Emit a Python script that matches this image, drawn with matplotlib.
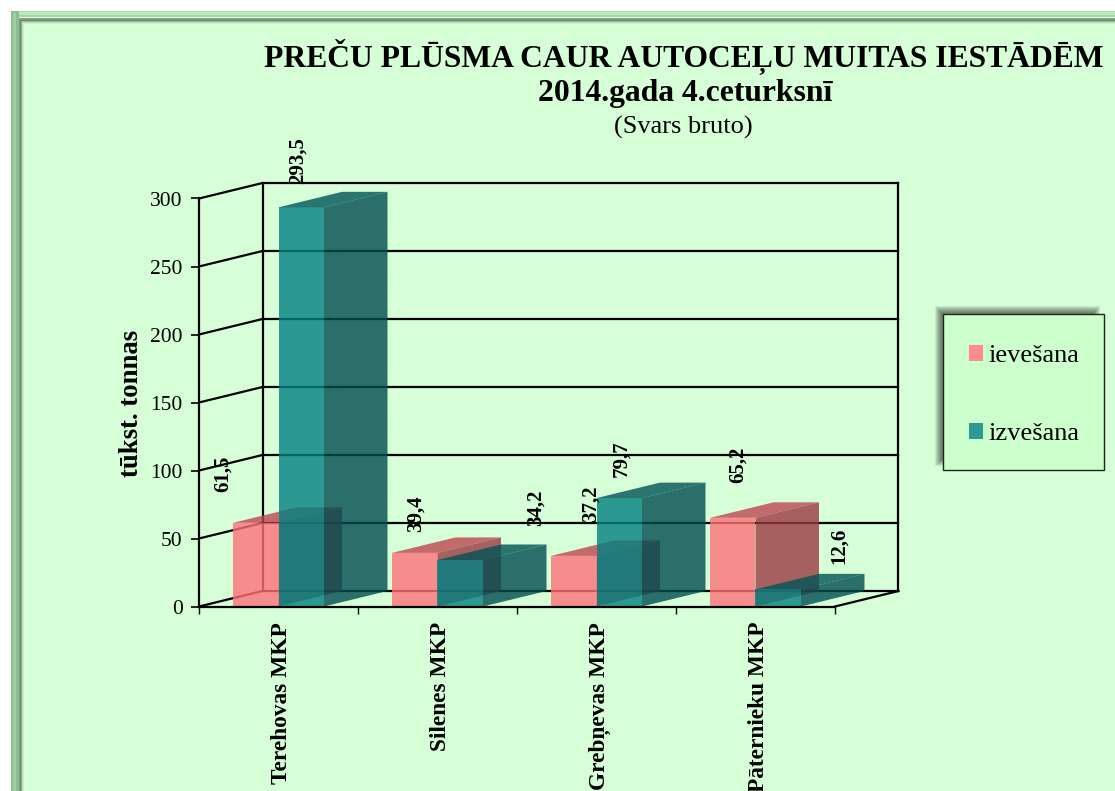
import matplotlib
matplotlib.use("Agg")
import matplotlib.pyplot as plt
from matplotlib.patches import Polygon, Rectangle
from matplotlib.transforms import ScaledTranslation

categories = ["Terehovas MKP", "Silenes MKP", "Grebņevas MKP", "Pāternieku MKP"]
ievesana = [61.5, 39.4, 37.2, 65.2]
izvesana = [293.5, 34.2, 79.7, 12.6]
ievesana_labels = ["61,5", "39,4", "37,2", "65,2"]
izvesana_labels = ["293,5", "34,2", "79,7", "12,6"]
y_ticks = [0, 50, 100, 150, 200, 250, 300]
title_lines = ["PREČU PLŪSMA CAUR AUTOCEĻU MUITAS IESTĀDĒM", "2014.gada 4.ceturksnī"]
subtitle = "(Svars bruto)"
y_label = "tūkst. tonnas"
legend_names = ["ievešana", "izvešana"]

W, H = 1115, 791
SERIF = "Liberation Serif"
BG = "#D7FFD7"
fig = plt.figure(figsize=(W / 100, H / 100), dpi=100, facecolor="white")

# page layer in pixel coordinates
page = fig.add_axes([0, 0, 1, 1])
page.set_xlim(0, W)
page.set_ylim(H, 0)
page.axis("off")


def band(x, y, c, z=1):
    page.add_patch(Rectangle((x, y), W + 10 - x, H + 10 - y, fc=c, ec="none", zorder=z))


# bevelled frame
for off, col in [(10.5, "#A9DCA9"), (12, "#B9EBB9"), (15, "#A5D5A5"), (17, "#E8F5E8"),
                 (18, "#7F9F7F"), (20, "#6E8A6E"), (21, "#96B496"), (22, "#BCDDBC"),
                 (23, "#CDEECD"), (24, BG)]:
    band(off, off, col)
page.add_patch(Rectangle((10.5, 10.5), 8, H, fc="#8DBE8D", ec="none", zorder=1.5))
page.add_patch(Rectangle((13, 13), 3, H, fc="#A0CFA0", ec="none", zorder=1.6))

# legend box with blurred shadow
for grow in range(3, -4, -1):
    page.add_patch(Rectangle((938 - grow, 309 - grow), 159 + 2 * grow, 154 + 2 * grow,
                             fc="black", ec="none", alpha=0.085, zorder=2))
page.add_patch(Rectangle((943, 314), 161, 156, fc="#CCFFCC", ec="#222222", lw=1, zorder=3))

# titles
page.text(684, 57, title_lines[0], family=SERIF, weight="bold", fontsize=22.8, ha="center", va="center", color="black")
page.text(685, 94, title_lines[1], family=SERIF, weight="bold", fontsize=22.8, ha="center", va="center", color="black")
page.text(683.5, 127, subtitle, family=SERIF, fontsize=19, ha="center", va="center", color="black")

# chart: the axes is the front plane of the 3-D box
ax = fig.add_axes([199 / W, 1 - 606.5 / H, 636 / W, 408 / H])
ax.patch.set_alpha(0)
ax.set_xlim(0, 4)
ax.set_ylim(0, 300)
DX = 63.5 / 159    # depth, in data units
DY = 15.5 / 1.36

LW = 1.6
for t in y_ticks:
    ax.plot([0, DX], [t, t + DY], color="black", lw=LW, clip_on=False, zorder=1, solid_capstyle="round")
    ax.plot([DX, 4 + DX], [t + DY, t + DY], color="black", lw=LW, clip_on=False, zorder=1)
ax.plot([DX, DX], [DY, 300 + DY], color="black", lw=LW, clip_on=False, zorder=1)
ax.plot([4 + DX, 4 + DX], [DY, 300 + DY], color="black", lw=LW, clip_on=False, zorder=1)
ax.plot([4, 4 + DX], [0, DY], color="black", lw=LW, clip_on=False, zorder=1)

BAR_W = 45.5 / 159
ALPHA = 0.8
series = [
    (ievesana, -1, "#FF7078", "#9C3842", "#BF454F", ievesana_labels,
     [(-33, 49), (1, 39), (16.5, 52), (5, 53)]),
    (izvesana, 0, "#008080", "#004B50", "#005355", izvesana_labels,
     [(-3.5, 47), (75, 52), (2, 39), (60.5, 44)]),
]
z = 2
for i in range(len(categories)):
    for values, shift, front, side, top, labels, offsets in series:
        v = values[i]
        x0 = i + 0.5 + shift * BAR_W
        x1 = x0 + BAR_W
        ax.add_patch(Polygon([(x1, 0), (x1 + DX, DY), (x1 + DX, v + DY), (x1, v)], closed=True,
                             fc=side, ec="none", alpha=ALPHA, zorder=z, clip_on=False))
        ax.add_patch(Polygon([(x0, v), (x0 + DX, v + DY), (x1 + DX, v + DY), (x1, v)], closed=True,
                             fc=top, ec="none", alpha=ALPHA, zorder=z, clip_on=False))
        ax.bar(x0, v, width=BAR_W, align="edge", color=front, alpha=ALPHA, zorder=z, clip_on=False)
        z += 1
for values, shift, front, side, top, labels, offsets in series:
    for i, v in enumerate(values):
        ax.annotate(labels[i], (i + 0.5 + (shift + 0.5) * BAR_W, v), xytext=offsets[i],
                    textcoords="offset pixels", rotation=90, ha="center", va="center",
                    family=SERIF, weight="bold", fontsize=15, color="black",
                    zorder=50, annotation_clip=False)

for s in ("top", "right"):
    ax.spines[s].set_visible(False)
for s in ("left", "bottom"):
    ax.spines[s].set_linewidth(LW)
    ax.spines[s].set_zorder(40)

ax.set_yticks(y_ticks)
ax.set_yticklabels([str(t) for t in y_ticks], family=SERIF, fontsize=15.5)
ax.tick_params(axis="y", length=5.5, width=1.2, pad=6.3)
ax.set_xticks(range(5))
ax.set_xticklabels([])
ax.tick_params(axis="x", which="major", length=5, width=1)
ax.set_xticks([i + 0.5 for i in range(4)], minor=True)
ax.set_xticklabels(categories, minor=True, rotation=90, family=SERIF, weight="bold",
                   fontsize=16.8, ha="center", va="top")
ax.tick_params(axis="x", which="minor", length=0, pad=11)
shift_right = ScaledTranslation(3 / 100, 0, fig.dpi_scale_trans)
for lab in ax.get_xticklabels(minor=True):
    lab.set_transform(lab.get_transform() + shift_right)
ax.set_ylabel(y_label, family=SERIF, weight="bold", fontsize=19.3, va="center")
ax.yaxis.set_label_coords((131 - 199) / 636, (606.5 - 403) / 408)

handles = [Rectangle((0, 0), 1, 1, fc=c, ec="none") for c in ("#FF8C8C", "#2A9A92")]
leg = fig.legend(handles, legend_names, loc="upper left", bbox_to_anchor=(969 / W, 1 - 345 / H),
                 frameon=False, borderpad=0, borderaxespad=0, handlelength=0.53, handleheight=0.53,
                 handletextpad=0.22, labelspacing=2.13,
                 prop={"family": SERIF, "size": 19})
leg.set_zorder(60)

fig.savefig("out.png", dpi=100, facecolor="white")
